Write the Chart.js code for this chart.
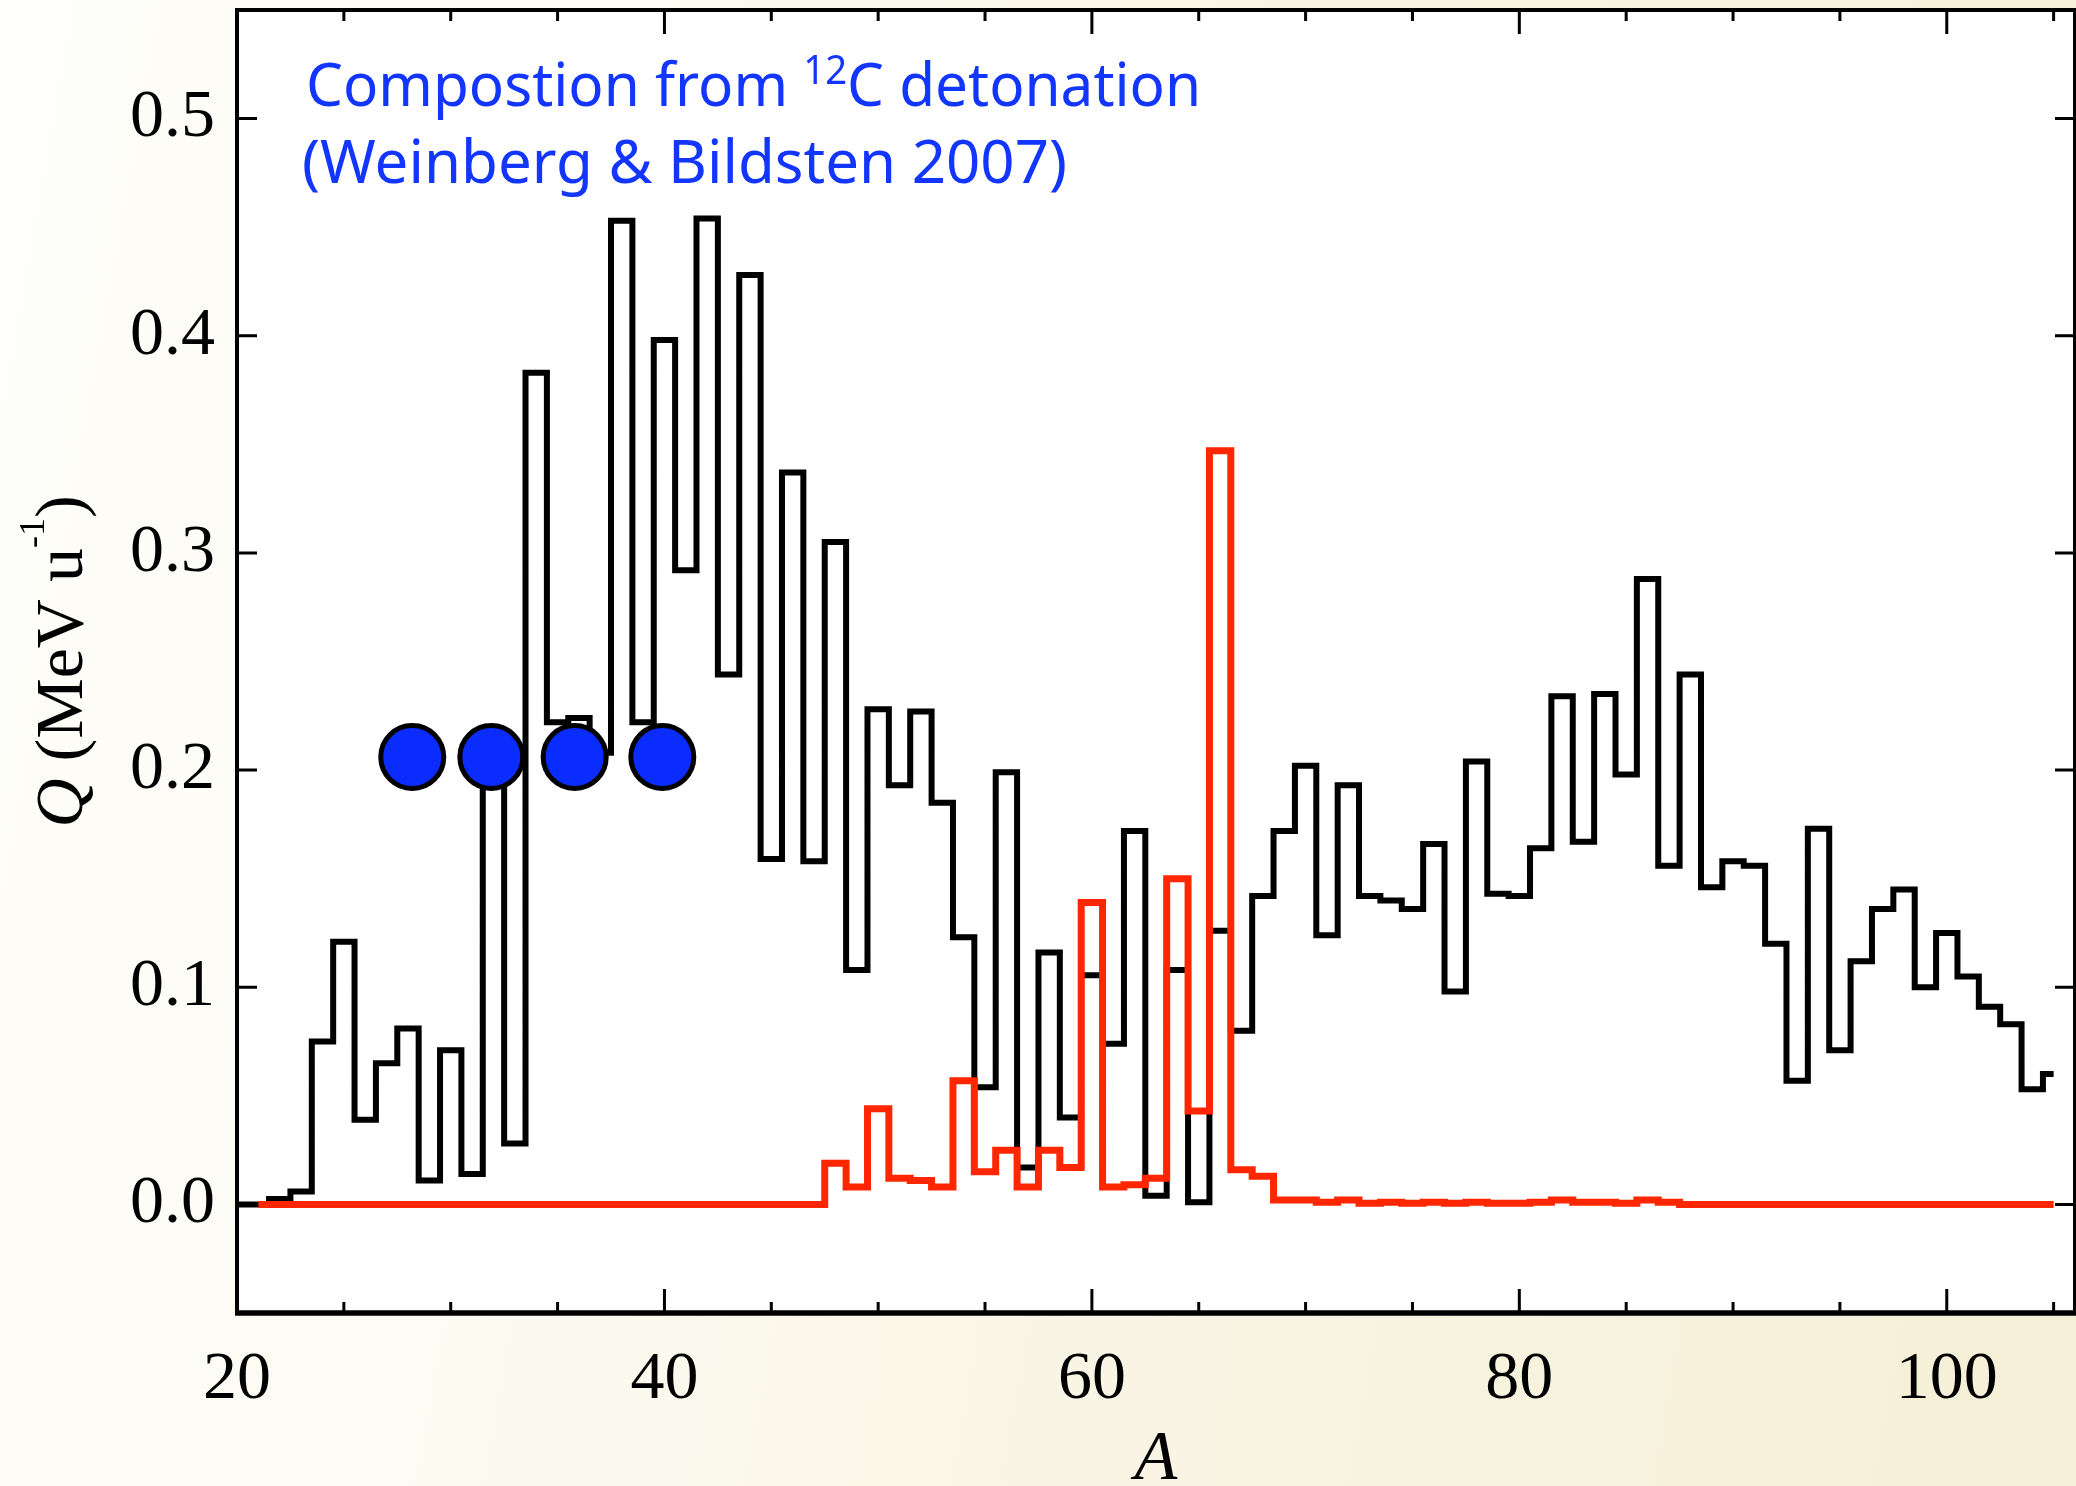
<!DOCTYPE html>
<html lang="en">
<head>
<meta charset="UTF-8" />
<title>Q per nucleon vs mass number A</title>
<script src="https://cdn.jsdelivr.net/npm/chart.js"></script>
<style>
  html, body { margin: 0; padding: 0; }
  body {
    width: 2076px;
    height: 1486px;
    overflow: hidden;
    background: linear-gradient(100deg, #fefefb 0%, #fcfaf1 30%, #f8f3e0 70%, #f6efd7 100%);
  }
  canvas { display: block; }
</style>
</head>
<body>
<canvas id="qChart" width="2076" height="1486"></canvas>
<script>
// mass number A (bin centres)
const massNumber = [
  20, 21, 22, 23, 24, 25, 26, 27, 28, 29, 30, 31, 32, 33, 34, 35, 36, 37, 38, 39,
  40, 41, 42, 43, 44, 45, 46, 47, 48, 49, 50, 51, 52, 53, 54, 55, 56, 57, 58, 59,
  60, 61, 62, 63, 64, 65, 66, 67, 68, 69, 70, 71, 72, 73, 74, 75, 76, 77, 78, 79,
  80, 81, 82, 83, 84, 85, 86, 87, 88, 89, 90, 91, 92, 93, 94, 95, 96, 97, 98, 99,
  100, 101, 102, 103, 104, 105
];

// Q (MeV/u), black histogram
const qBlack = [
  0, 0, 0.0025, 0.006, 0.075, 0.121, 0.039, 0.065, 0.081, 0.011,
  0.071, 0.014, 0.205, 0.028, 0.383, 0.222, 0.224, 0.208, 0.453, 0.222,
  0.398, 0.292, 0.454, 0.244, 0.428, 0.159, 0.337, 0.158, 0.305, 0.108,
  0.228, 0.193, 0.227, 0.185, 0.123, 0.054, 0.199, 0.017, 0.116, 0.040,
  0.1055, 0.074, 0.172, 0.004, 0.108, 0.001, 0.126, 0.080, 0.142, 0.172,
  0.202, 0.124, 0.193, 0.142, 0.140, 0.136, 0.166, 0.098, 0.204, 0.143,
  0.142, 0.164, 0.234, 0.167, 0.235, 0.198, 0.288, 0.156, 0.244, 0.146,
  0.158, 0.156, 0.120, 0.057, 0.173, 0.071, 0.112, 0.136, 0.145, 0.100,
  0.125, 0.105, 0.091, 0.083, 0.053, 0.060
];

// Q (MeV/u), red histogram (starts at A = 21)
const qRed = [
  null, 0, 0, 0, 0, 0, 0, 0, 0, 0,
  0, 0, 0, 0, 0, 0, 0, 0, 0, 0,
  0, 0, 0, 0, 0, 0, 0, 0, 0.019, 0.008,
  0.044, 0.012, 0.011, 0.008, 0.057, 0.015, 0.025, 0.008, 0.025, 0.017,
  0.139, 0.008, 0.009, 0.012, 0.150, 0.043, 0.347, 0.016, 0.013, 0.002,
  0.002, 0.001, 0.002, 0.0005, 0.001, 0.0005, 0.001, 0.0005, 0.001, 0.0005,
  0.0005, 0.001, 0.002, 0.001, 0.001, 0.0005, 0.002, 0.001, 0, 0,
  0, 0, 0, 0, 0, 0, 0, 0, 0, 0,
  0, 0, 0, 0, 0, 0
];

// 12C detonation composition markers
const markerA = [28.2, 31.9, 35.8, 39.9];
const markerQ = [0.206, 0.206, 0.206, 0.206];

// axis ticks
const xLabelTicks = [20, 40, 60, 80, 100];
const xMinorTicks = [25, 30, 35, 45, 50, 55, 65, 70, 75, 85, 90, 95, 105];
const yTicks = [0, 0.1, 0.2, 0.3, 0.4, 0.5];

const SERIF = '"Liberation Serif", "DejaVu Serif", serif';
const SANS = '"Noto Sans", "Open Sans", sans-serif';
const BLUE = '#1236ff';

const toPoints = (xs, ys) => xs.map((x, i) => ({ x: x, y: ys[i] }));

function partsWidth(ctx, parts) {
  let w = 0;
  parts.forEach(p => { ctx.font = p.font; w += ctx.measureText(p.text).width; });
  return w;
}

function drawParts(ctx, parts, x0) {
  let x = x0;
  parts.forEach(p => {
    ctx.font = p.font;
    ctx.fillText(p.text, x, -(p.rise || 0));
    x += ctx.measureText(p.text).width;
  });
}

// draw a text line squeezed horizontally to a given width
function drawFitted(ctx, parts, x, y, width) {
  const sx = width / partsWidth(ctx, parts);
  ctx.save();
  ctx.translate(x, y);
  ctx.scale(sx, 1);
  drawParts(ctx, parts, 0);
  ctx.restore();
}

const framePlugin = {
  id: 'frame',
  beforeDatasetsDraw(chart) {
    const { ctx, chartArea: a } = chart;
    ctx.save();
    ctx.fillStyle = '#ffffff';
    ctx.fillRect(a.left, a.top, a.right - a.left, a.bottom - a.top);
    ctx.restore();
  },
  afterDraw(chart) {
    const { ctx, chartArea: a, scales } = chart;
    const xs = scales.x, ys = scales.y;
    ctx.save();
    ctx.strokeStyle = '#000';
    ctx.lineCap = 'butt';

    // frame
    ctx.lineWidth = 4;
    ctx.strokeRect(a.left, a.top, a.right - a.left, a.bottom - a.top);
    ctx.lineWidth = 5.5;
    ctx.beginPath();
    ctx.moveTo(a.left - 2, a.bottom);
    ctx.lineTo(a.right + 2, a.bottom);
    ctx.stroke();

    // inward ticks
    ctx.lineWidth = 3;
    ctx.beginPath();
    const xTick = (v, len) => {
      const px = xs.getPixelForValue(v);
      ctx.moveTo(px, a.bottom); ctx.lineTo(px, a.bottom - len);
      ctx.moveTo(px, a.top); ctx.lineTo(px, a.top + len);
    };
    xLabelTicks.forEach(v => xTick(v, 24));
    xMinorTicks.forEach(v => xTick(v, 11));
    yTicks.forEach(v => {
      const py = ys.getPixelForValue(v);
      ctx.moveTo(a.left, py); ctx.lineTo(a.left + 20, py);
      ctx.moveTo(a.right, py); ctx.lineTo(a.right - 20, py);
    });
    ctx.stroke();

    // axis titles
    ctx.fillStyle = '#000';
    ctx.textBaseline = 'alphabetic';
    ctx.textAlign = 'left';
    const xTitle = [{ text: 'A', font: 'italic 70px ' + SERIF }];
    ctx.save();
    ctx.translate((a.left + a.right) / 2, 1479);
    drawParts(ctx, xTitle, -partsWidth(ctx, xTitle) / 2);
    ctx.restore();

    const yTitle = [
      { text: 'Q', font: 'italic 68px ' + SERIF },
      { text: ' (MeV u', font: '68px ' + SERIF },
      { text: '-1', font: '36px ' + SERIF, rise: 38 },
      { text: ')', font: '68px ' + SERIF }
    ];
    ctx.save();
    ctx.translate(82, (a.top + a.bottom) / 2);
    ctx.rotate(-Math.PI / 2);
    drawParts(ctx, yTitle, -partsWidth(ctx, yTitle) / 2);
    ctx.restore();

    // annotation
    ctx.fillStyle = BLUE;
    drawFitted(ctx, [
      { text: 'Compostion from ', font: '61px ' + SANS },
      { text: '12', font: '40px ' + SANS, rise: 22 },
      { text: 'C detonation', font: '61px ' + SANS }
    ], 306, 106, 895);
    drawFitted(ctx, [{ text: '(Weinberg & Bildsten 2007)', font: '61px ' + SANS }], 302, 183, 765);

    ctx.restore();
  }
};

new Chart(document.getElementById('qChart'), {
  type: 'line',
  data: {
    datasets: [
      {
        type: 'scatter',
        data: toPoints(markerA, markerQ),
        pointRadius: 31.5,
        pointBackgroundColor: '#0b2cff',
        pointBorderColor: '#000',
        pointBorderWidth: 5,
        order: 0
      },
      {
        data: toPoints(massNumber, qRed),
        borderColor: '#ff2600',
        borderWidth: 7,
        stepped: 'middle',
        pointRadius: 0,
        fill: false,
        borderJoinStyle: 'miter',
        order: 1
      },
      {
        data: toPoints(massNumber, qBlack),
        borderColor: '#000000',
        borderWidth: 6,
        stepped: 'middle',
        pointRadius: 0,
        fill: false,
        borderJoinStyle: 'miter',
        order: 2
      }
    ]
  },
  options: {
    responsive: false,
    animation: false,
    layout: { autoPadding: false, padding: { top: 10, right: 1, left: 0, bottom: 0 } },
    plugins: { legend: { display: false }, tooltip: { enabled: false } },
    scales: {
      x: {
        type: 'linear',
        position: 'bottom',
        min: 20,
        max: 106,
        grid: { display: false, drawTicks: false },
        border: { display: false },
        ticks: {
          font: { family: SERIF, size: 68 },
          color: '#000',
          padding: 26,
          maxRotation: 0,
          autoSkip: false,
          callback: v => String(v)
        },
        afterBuildTicks: s => { s.ticks = xLabelTicks.map(v => ({ value: v })); },
        afterFit: s => {
          s.height = 173;
          s.paddingLeft = 0;
          s.paddingRight = 0;
        }
      },
      y: {
        type: 'linear',
        position: 'left',
        min: -0.05,
        max: 0.55,
        grid: { display: false, drawTicks: false },
        border: { display: false },
        ticks: {
          font: { family: SERIF, size: 68 },
          color: '#000',
          padding: 22,
          callback: v => v.toFixed(1)
        },
        afterBuildTicks: s => { s.ticks = yTicks.map(v => ({ value: v })); },
        afterFit: s => {
          s.width = 237;
          s.paddingTop = 0;
          s.paddingBottom = 0;
        }
      }
    }
  },
  plugins: [framePlugin]
});
</script>
</body>
</html>
